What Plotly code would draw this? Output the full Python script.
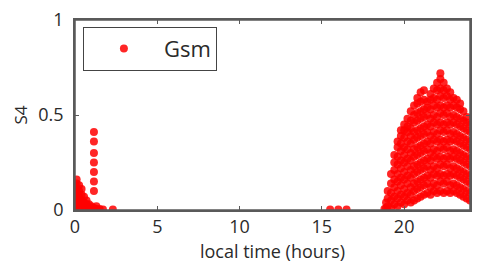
import plotly.graph_objects as go

# ---- data ----
# early-morning cluster: column hours and S4 values in each column
morning_hours = [0.0, 0.1, 0.25, 0.4, 0.55, 0.7, 0.85, 1.0, 1.15, 1.3, 1.5, 1.7, 2.3]
morning_s4 = [
    [0.01, 0.04, 0.07, 0.10, 0.13],
    [0.02, 0.05, 0.08, 0.11, 0.14, 0.16],
    [0.01, 0.04, 0.07, 0.10, 0.13],
    [0.02, 0.05, 0.08, 0.11],
    [0.01, 0.04, 0.07],
    [0.01, 0.03, 0.05],
    [0.01, 0.03],
    [0.005, 0.02],
    [0.01, 0.10, 0.15, 0.20, 0.25, 0.30, 0.36, 0.41],
    [0.005, 0.02],
    [0.005],
    [0.003],
    [0.003],
]
# sparse daytime points
day_hours = [15.5, 16.0, 16.5, 18.8]
day_s4 = [0.003, 0.003, 0.003, 0.005]

# evening cluster
evening_hours = [18.9, 19.0, 19.2, 19.4, 19.6, 19.8, 20.0, 20.2, 20.4, 20.6, 20.8,
                 21.0, 21.2, 21.4, 21.6, 21.8, 22.0, 22.2, 22.4, 22.6, 22.8,
                 23.0, 23.2, 23.4, 23.6, 23.8, 24.0]
evening_s4 = [
    [0.01, 0.04],
    [0.02, 0.06, 0.10],
    [0.01, 0.05, 0.09, 0.14, 0.19],
    [0.03, 0.07, 0.12, 0.16, 0.21, 0.25, 0.29],
    [0.02, 0.06, 0.10, 0.15, 0.19, 0.24, 0.28, 0.33, 0.36],
    [0.04, 0.08, 0.13, 0.17, 0.22, 0.26, 0.31, 0.35, 0.39, 0.42],
    [0.03, 0.07, 0.11, 0.16, 0.20, 0.25, 0.29, 0.33, 0.38, 0.42, 0.45],
    [0.05, 0.09, 0.14, 0.18, 0.23, 0.27, 0.32, 0.36, 0.41, 0.44, 0.48],
    [0.04, 0.08, 0.12, 0.17, 0.21, 0.26, 0.30, 0.35, 0.39, 0.43, 0.47, 0.52],
    [0.05, 0.10, 0.14, 0.19, 0.23, 0.28, 0.32, 0.37, 0.41, 0.46, 0.50, 0.55],
    [0.06, 0.11, 0.15, 0.20, 0.24, 0.29, 0.33, 0.38, 0.42, 0.47, 0.51, 0.56, 0.59],
    [0.07, 0.12, 0.16, 0.21, 0.25, 0.30, 0.34, 0.39, 0.43, 0.48, 0.52, 0.57, 0.62],
    [0.08, 0.13, 0.17, 0.22, 0.26, 0.31, 0.35, 0.40, 0.44, 0.49, 0.53, 0.58, 0.63],
    [0.09, 0.14, 0.18, 0.23, 0.27, 0.32, 0.36, 0.41, 0.45, 0.50, 0.54, 0.57],
    [0.08, 0.12, 0.17, 0.21, 0.26, 0.30, 0.35, 0.39, 0.44, 0.48, 0.53, 0.58, 0.61],
    [0.10, 0.14, 0.19, 0.23, 0.28, 0.32, 0.37, 0.41, 0.46, 0.50, 0.55, 0.59, 0.64],
    [0.09, 0.13, 0.18, 0.22, 0.27, 0.31, 0.36, 0.40, 0.45, 0.49, 0.54, 0.58, 0.63, 0.67],
    [0.10, 0.15, 0.19, 0.24, 0.28, 0.33, 0.37, 0.42, 0.46, 0.51, 0.55, 0.60, 0.64, 0.69, 0.72],
    [0.09, 0.14, 0.18, 0.23, 0.27, 0.32, 0.36, 0.41, 0.45, 0.50, 0.54, 0.59, 0.63, 0.67],
    [0.10, 0.15, 0.19, 0.24, 0.28, 0.33, 0.37, 0.42, 0.46, 0.51, 0.55, 0.60, 0.64],
    [0.09, 0.13, 0.18, 0.22, 0.27, 0.31, 0.36, 0.40, 0.45, 0.49, 0.54, 0.58, 0.62],
    [0.10, 0.14, 0.19, 0.23, 0.28, 0.32, 0.37, 0.41, 0.46, 0.50, 0.55, 0.59],
    [0.09, 0.13, 0.18, 0.22, 0.27, 0.31, 0.36, 0.40, 0.45, 0.49, 0.54, 0.58],
    [0.08, 0.12, 0.17, 0.21, 0.26, 0.30, 0.35, 0.39, 0.44, 0.48, 0.53, 0.56],
    [0.07, 0.11, 0.16, 0.20, 0.25, 0.29, 0.34, 0.38, 0.43, 0.47, 0.52],
    [0.06, 0.10, 0.15, 0.19, 0.24, 0.28, 0.33, 0.37, 0.42, 0.46, 0.49],
    [0.05, 0.09, 0.14, 0.18, 0.23, 0.27, 0.32, 0.36, 0.41, 0.45],
]

x_ticks = [0, 5, 10, 15, 20]
y_ticks = [0, 0.5, 1]
y_tick_labels = ["0", "0.5", "1"]

xs, ys = [], []
for hours, cols in ((morning_hours, morning_s4), (evening_hours, evening_s4)):
    for h, col in zip(hours, cols):
        for v in col:
            xs.append(h)
            ys.append(v)
xs += day_hours
ys += day_s4

FONT = "Open Sans"
TXT = "#2a2a2a"
AX = "#5a5a5a"

fig = go.Figure()
fig.add_trace(go.Scatter(
    x=xs, y=ys, mode="markers", name="Gsm",
    marker=dict(color="rgba(255,0,0,0.85)", size=8, line=dict(width=0)),
))

# page body has an 8px margin: keep the figure inside the viewport
fig.update_layout(
    width=466, height=260,
    margin=dict(l=67, r=4, t=12, b=58),
    paper_bgcolor="white", plot_bgcolor="white",
    font=dict(family=FONT, size=17, color=TXT),
    showlegend=True,
    legend=dict(
        x=0.02, y=0.965, xanchor="left", yanchor="top",
        bordercolor="#444444", borderwidth=1, bgcolor="white",
        font=dict(family=FONT, size=22, color=TXT),
        itemwidth=70,
    ),
    shapes=[dict(type="rect", xref="paper", yref="paper", x0=0, x1=1, y0=0, y1=1,
                 line=dict(color=AX, width=1.5), fillcolor="rgba(0,0,0,0)", layer="above")],
)
fig.update_xaxes(
    range=[0, 24], tickvals=x_ticks, ticks="inside", ticklen=4,
    tickcolor=AX, showline=True, linecolor=AX, linewidth=1.5, mirror="ticks",
    showgrid=False, zeroline=False, automargin=False, ticklabeloverflow="allow",
    title=dict(text="local time (hours)", font=dict(family=FONT, size=18, color=TXT), standoff=8),
    tickfont=dict(family=FONT, size=18, color=TXT),
)
fig.update_yaxes(
    range=[0, 1], tickvals=y_ticks, ticktext=y_tick_labels, ticks="inside", ticklen=4,
    tickcolor=AX, showline=True, linecolor=AX, linewidth=1.5, mirror="ticks",
    showgrid=False, zeroline=False, automargin=False, ticklabelstandoff=6,
    ticklabeloverflow="allow",
    title=dict(text="S4", font=dict(family=FONT, size=17, color=TXT), standoff=6),
    tickfont=dict(family=FONT, size=18, color=TXT),
)

fig.write_html("out.html")
